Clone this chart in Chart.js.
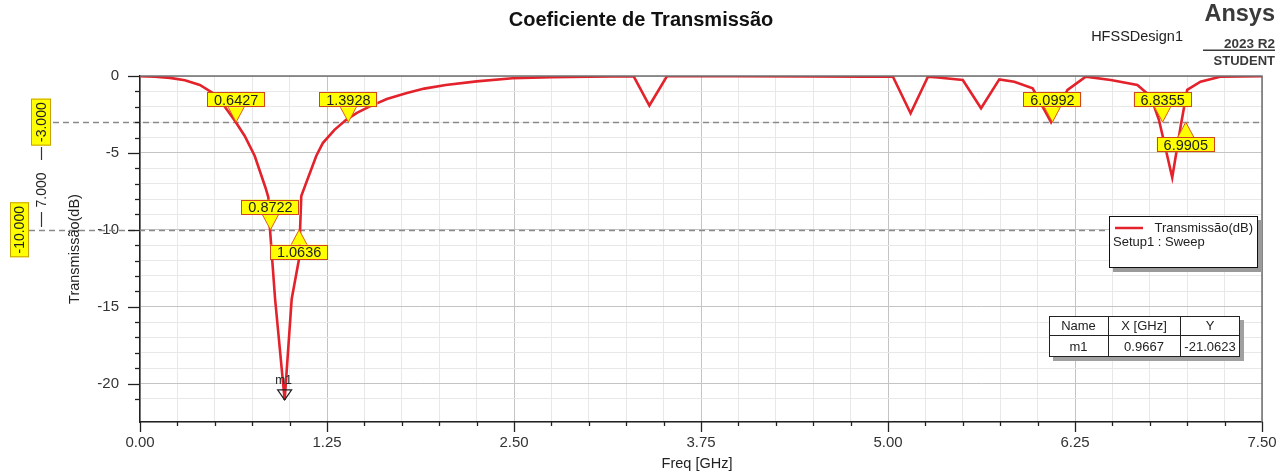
<!DOCTYPE html>
<html>
<head>
<meta charset="utf-8">
<script src="https://cdn.jsdelivr.net/npm/chart.js@4.4.1/dist/chart.umd.min.js"></script>
<style>
  html, body { margin: 0; padding: 0; background: #ffffff; }
  #wrap { position: relative; width: 1287px; height: 474px; }
  canvas { display: block; }
</style>
</head>
<body>
<div id="wrap"><canvas id="c" width="1287" height="474"></canvas></div>
<script>
// ---------------- DATA ----------------
const chartTitle = 'Coeficiente de Transmissão';
const xAxisTitle = 'Freq [GHz]';
const yAxisTitle = 'Transmissão(dB)';
const seriesName = 'Transmissão(dB)';
const setupName = 'Setup1 : Sweep';

const freqGHz = [0.00, 0.10, 0.20, 0.30, 0.40, 0.50, 0.567, 0.633, 0.70, 0.767, 0.84, 0.858, 0.869, 0.903, 0.967,
  1.014, 1.063, 1.078, 1.178, 1.222, 1.30, 1.378, 1.45, 1.533, 1.65, 1.778, 1.90, 2.044, 2.25, 2.49, 2.75, 3.00, 3.30,
  3.405, 3.522, 4.00, 4.50, 4.85, 5.033, 5.151, 5.267, 5.333, 5.50, 5.622, 5.744, 5.844, 5.967, 6.09, 6.20, 6.322,
  6.489, 6.667, 6.756, 6.811, 6.90, 6.956, 7.00, 7.089, 7.22, 7.50];
const transDB = [-0.02, -0.05, -0.12, -0.28, -0.58, -1.18, -2.00, -2.90, -3.90, -5.20, -7.30, -7.90, -9.97, -14.5, -21.06,
  -14.5, -11.9, -7.80, -5.20, -4.36, -3.50, -2.85, -2.40, -1.99, -1.50, -1.12, -0.82, -0.58, -0.35, -0.15, -0.08, -0.04, -0.02,
  -1.92, -0.02, -0.02, -0.03, -0.05, -0.05, -2.42, -0.05, -0.10, -0.26, -2.10, -0.22, -0.37, -0.80, -3.00, -0.90, -0.04,
  -0.26, -0.58, -1.34, -2.85, -6.60, -3.28, -0.90, -0.37, -0.05, -0.02];

const xTickLabels = ['0.00', '1.25', '2.50', '3.75', '5.00', '6.25', '7.50'];
const yTickLabels = ['0', '-5', '-10', '-15', '-20'];

const refLevels = [-3, -10];
const refLabels = ['-3.000', '-10.000'];
const deltaLabel = '7.000';

const markerFreqs = [0.6427, 0.8722, 1.0636, 1.3928, 6.0992, 6.8355, 6.9905];
const markerLevels = [-3, -10, -10, -3, -3, -3, -3];
const markerLabels = ['0.6427', '0.8722', '1.0636', '1.3928', '6.0992', '6.8355', '6.9905'];
const markerPointsDown = [true, true, false, true, true, true, false];

const m1Name = 'm1';
const m1Freq = 0.9667;
const m1Value = -21.0623;
const tableHeader = ['Name', 'X [GHz]', 'Y'];
const tableRow = ['m1', '0.9667', '-21.0623'];

// ---------------- STYLE ----------------
const FONT = '"Liberation Sans", Arial, sans-serif';
const RED = '#e3222b';
const MAJOR_STEP_X = 1.25;

function isMult(v, s) { const k = Math.round(v / s); return Math.abs(v - k * s) < 1e-6; }

const decorPlugin = {
  id: 'decor',
  beforeDatasetsDraw(chart) {
    const ctx = chart.ctx, ca = chart.chartArea;
    const ys = chart.scales.y;
    ctx.save();
    const startX = [53, 29];
    ctx.strokeStyle = '#8a8a8a';
    ctx.lineWidth = 1.3;
    ctx.setLineDash([6, 4]);
    refLevels.forEach((lv, i) => {
      const y = Math.round(ys.getPixelForValue(lv)) + 0.5;
      ctx.beginPath(); ctx.moveTo(startX[i], y); ctx.lineTo(ca.right, y); ctx.stroke();
    });
    ctx.restore();
  },
  afterDraw(chart) {
    const ctx = chart.ctx, ca = chart.chartArea;
    const xs = chart.scales.x, ys = chart.scales.y;
    ctx.save();
    // top and right borders
    ctx.strokeStyle = '#707070'; ctx.lineWidth = 1.5;
    ctx.beginPath(); ctx.moveTo(ca.left, ca.top); ctx.lineTo(ca.right, ca.top); ctx.lineTo(ca.right, ca.bottom); ctx.stroke();
    // custom ticks
    ctx.strokeStyle = '#222'; ctx.lineWidth = 1.3;
    xs.ticks.forEach(t => {
      const x = Math.round(xs.getPixelForValue(t.value)) + 0.5;
      const len = isMult(t.value, MAJOR_STEP_X) ? 10 : 4;
      ctx.beginPath(); ctx.moveTo(x, ca.bottom); ctx.lineTo(x, ca.bottom + len); ctx.stroke();
    });
    ys.ticks.forEach(t => {
      if (!isMult(t.value, 1)) return;
      const y = Math.round(ys.getPixelForValue(t.value)) + 0.5;
      const len = isMult(t.value, 5) ? 12 : 5;
      ctx.beginPath(); ctx.moveTo(ca.left - len, y); ctx.lineTo(ca.left, y); ctx.stroke();
    });

    // title & header
    ctx.fillStyle = '#111';
    ctx.textAlign = 'center'; ctx.textBaseline = 'middle';
    ctx.font = 'bold 20px ' + FONT;
    ctx.fillText(chartTitle, 641, 20);
    ctx.fillStyle = '#222';
    ctx.textAlign = 'right';
    ctx.font = '14.5px ' + FONT;
    ctx.fillText('HFSSDesign1', 1183, 37);
    ctx.fillStyle = '#3a3a3a';
    ctx.textBaseline = 'alphabetic';
    ctx.font = 'bold 23.5px ' + FONT;
    ctx.fillText('Ansys', 1275, 21);
    ctx.font = 'bold 13.5px ' + FONT;
    ctx.fillText('2023 R2', 1275, 48);
    ctx.fillRect(1203, 49.5, 72, 1.5);
    ctx.font = 'bold 13px ' + FONT;
    ctx.fillText('STUDENT', 1275, 65);
    ctx.textBaseline = 'middle';

    // axis titles
    ctx.fillStyle = '#222';
    ctx.textAlign = 'center';
    ctx.font = '14.5px ' + FONT;
    ctx.fillText(xAxisTitle, 697, 464);
    ctx.save();
    ctx.translate(75, (ca.top + ca.bottom) / 2);
    ctx.rotate(-Math.PI / 2);
    ctx.fillText(yAxisTitle, 0, 0);
    ctx.restore();

    // left reference labels (rotated yellow boxes)
    const boxX = [31, 10];
    const boxW = [20, 19];
    const boxL = [47, 55];
    refLevels.forEach((lv, i) => {
      const yc = ys.getPixelForValue(lv);
      const x0 = boxX[i], w = boxW[i], h = boxL[i];
      ctx.fillStyle = '#ffff00';
      ctx.fillRect(x0, yc - h / 2, w, h);
      ctx.strokeStyle = '#c8a000'; ctx.lineWidth = 1;
      ctx.strokeRect(x0 + 0.5, yc - h / 2 + 0.5, w - 1, h - 1);
      ctx.save();
      ctx.translate(x0 + w / 2 + 1, yc);
      ctx.rotate(-Math.PI / 2);
      ctx.fillStyle = '#222';
      ctx.font = '14px ' + FONT;
      ctx.textAlign = 'center'; ctx.textBaseline = 'middle';
      ctx.fillText(refLabels[i], 0, 0);
      ctx.restore();
    });
    // delta label between the two refs
    ctx.strokeStyle = '#333'; ctx.lineWidth = 1.2;
    ctx.beginPath(); ctx.moveTo(41.5, 147); ctx.lineTo(41.5, 160); ctx.stroke();
    ctx.beginPath(); ctx.moveTo(41.5, 212); ctx.lineTo(41.5, 227); ctx.stroke();
    ctx.save();
    ctx.translate(42, 190); ctx.rotate(-Math.PI / 2);
    ctx.fillStyle = '#222'; ctx.font = '14px ' + FONT;
    ctx.textAlign = 'center'; ctx.textBaseline = 'middle';
    ctx.fillText(deltaLabel, 0, 0);
    ctx.restore();

    // markers
    markerFreqs.forEach((f, i) => {
      const tx = xs.getPixelForValue(f);
      const ty = ys.getPixelForValue(markerLevels[i]);
      const down = markerPointsDown[i];
      const bw = 58, bh = 15, gap = 15, tw = 8;
      const bx = tx - bw / 2;
      const by = down ? ty - gap - bh : ty + gap;
      const baseY = down ? by + bh : by;
      ctx.fillStyle = '#ffff00';
      ctx.strokeStyle = '#e05a1a'; ctx.lineWidth = 1;
      ctx.beginPath();
      ctx.moveTo(tx - tw, baseY); ctx.lineTo(tx, ty); ctx.lineTo(tx + tw, baseY); ctx.closePath();
      ctx.fill();
      ctx.beginPath(); ctx.moveTo(tx - tw, baseY); ctx.lineTo(tx, ty); ctx.lineTo(tx + tw, baseY); ctx.stroke();
      ctx.fillStyle = '#ffff00';
      ctx.fillRect(bx, by, bw, bh);
      ctx.strokeStyle = '#d2461e';
      ctx.strokeRect(Math.round(bx) + 0.5, Math.round(by) + 0.5, bw - 1, bh - 1);
      ctx.fillStyle = '#222';
      ctx.font = '14.5px ' + FONT;
      ctx.textAlign = 'center'; ctx.textBaseline = 'middle';
      ctx.fillText(markerLabels[i], tx, by + bh / 2 + 1);
    });

    // m1 marker
    {
      const mx = xs.getPixelForValue(m1Freq);
      const my = ys.getPixelForValue(m1Value);
      ctx.strokeStyle = '#222'; ctx.lineWidth = 1.2;
      ctx.beginPath();
      ctx.moveTo(mx - 7, my - 10); ctx.lineTo(mx + 7, my - 10); ctx.lineTo(mx, my); ctx.closePath();
      ctx.stroke();
      ctx.fillStyle = '#222'; ctx.font = '12px ' + FONT;
      ctx.textAlign = 'center'; ctx.textBaseline = 'middle';
      ctx.fillText(m1Name, mx - 1, my - 19);
    }

    // legend box
    {
      const lx = 1109, ly = 216, lw = 149, lh = 52;
      ctx.fillStyle = '#9a9a9a';
      ctx.fillRect(lx + 4, ly + 4, lw, lh);
      ctx.fillStyle = '#fff';
      ctx.fillRect(lx, ly, lw, lh);
      ctx.strokeStyle = '#111'; ctx.lineWidth = 1;
      ctx.strokeRect(lx + 0.5, ly + 0.5, lw - 1, lh - 1);
      ctx.strokeStyle = RED; ctx.lineWidth = 2.5;
      ctx.beginPath(); ctx.moveTo(1115, 228); ctx.lineTo(1143, 228); ctx.stroke();
      ctx.fillStyle = '#222'; ctx.font = '13px ' + FONT;
      ctx.textAlign = 'right'; ctx.textBaseline = 'middle';
      ctx.fillText(seriesName, 1253, 228);
      ctx.textAlign = 'left';
      ctx.fillText(setupName, 1113, 242);
    }

    // marker table
    {
      const tx0 = 1049, ty0 = 316, tw = 191, th = 41;
      const cols = [1049, 1108, 1180, 1240];
      ctx.fillStyle = '#a0a0a0';
      ctx.fillRect(tx0 + 4, ty0 + 4, tw, th);
      ctx.fillStyle = '#fff';
      ctx.fillRect(tx0, ty0, tw, th);
      ctx.strokeStyle = '#222'; ctx.lineWidth = 1;
      ctx.strokeRect(tx0 + 0.5, ty0 + 0.5, tw - 1, th - 1);
      ctx.beginPath();
      ctx.moveTo(tx0, 335.5); ctx.lineTo(tx0 + tw, 335.5);
      ctx.moveTo(1108.5, ty0); ctx.lineTo(1108.5, ty0 + th);
      ctx.moveTo(1180.5, ty0); ctx.lineTo(1180.5, ty0 + th);
      ctx.stroke();
      ctx.fillStyle = '#222'; ctx.font = '13px ' + FONT;
      ctx.textAlign = 'center'; ctx.textBaseline = 'middle';
      for (let i = 0; i < 3; i++) {
        const cx = (cols[i] + cols[i + 1]) / 2;
        ctx.fillText(tableHeader[i], cx, 326);
        ctx.fillText(tableRow[i], cx, 347);
      }
    }
    ctx.restore();
  }
};

const chart = new Chart(document.getElementById('c'), {
  type: 'line',
  data: {
    datasets: [{
      label: seriesName,
      data: freqGHz.map((f, i) => ({ x: f, y: transDB[i] })),
      borderColor: RED,
      borderWidth: 2.6,
      pointRadius: 0,
      tension: 0,
      fill: false
    }]
  },
  options: {
    responsive: false,
    animation: false,
    events: [],
    layout: { padding: { left: 0, right: 25, top: 76, bottom: 0 } },
    plugins: { legend: { display: false }, title: { display: false }, tooltip: { enabled: false } },
    scales: {
      x: {
        type: 'linear',
        min: 0, max: 7.5,
        afterFit(s) { s.height = 52; },
        ticks: {
          stepSize: 0.25,
          autoSkip: false,
          maxRotation: 0,
          padding: 2,
          color: '#333',
          font: { family: FONT, size: 15 },
          callback(v) { return isMult(v, MAJOR_STEP_X) ? xTickLabels[Math.round(v / MAJOR_STEP_X)] : ''; }
        },
        grid: {
          color(c) { return c.tick && isMult(c.tick.value, MAJOR_STEP_X) ? '#c4c4c4' : '#e8e8e8'; },
          lineWidth: 1,
          tickLength: 10,
          tickColor: 'rgba(0,0,0,0)'
        },
        border: { display: true, color: '#222', width: 1.5 }
      },
      y: {
        min: -22.5, max: 0,
        afterFit(s) { s.width = 140; },
        ticks: {
          stepSize: 1,
          autoSkip: false,
          padding: 9,
          color: '#333',
          font: { family: FONT, size: 15 },
          callback(v) { return (isMult(v, 5)) ? yTickLabels[Math.round(-v / 5)] : ''; }
        },
        grid: {
          color(c) { return c.tick && isMult(c.tick.value, 5) ? '#c4c4c4' : '#e8e8e8'; },
          lineWidth: 1,
          tickLength: 12,
          tickColor: 'rgba(0,0,0,0)'
        },
        border: { display: true, color: '#222', width: 1.5 }
      }
    }
  },
  plugins: [decorPlugin]
});
</script>
</body>
</html>
